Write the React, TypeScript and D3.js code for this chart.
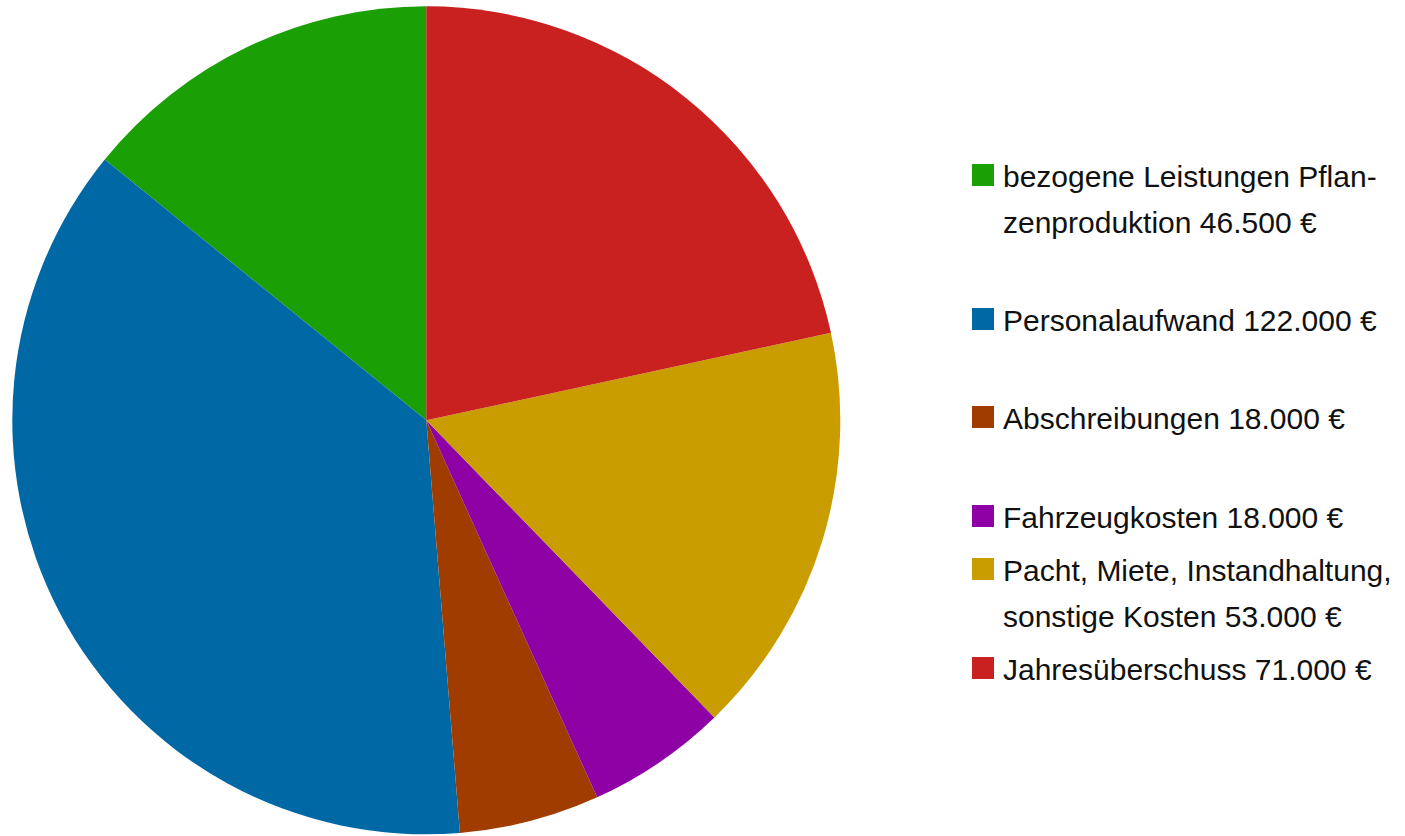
import React from "react";
import * as d3 from "d3";

const categories = [
  "bezogene Leistungen Pflanzenproduktion",
  "Personalaufwand",
  "Abschreibungen",
  "Fahrzeugkosten",
  "Pacht, Miete, Instandhaltung, sonstige Kosten",
  "Jahresüberschuss",
];
const values = [46500, 122000, 18000, 18000, 53000, 71000];
const colors = ["#1aa005", "#0068a4", "#a03c00", "#8e01a5", "#c99c00", "#c82120"];
const legendLines = [
  ["bezogene Leistungen Pflan-", "zenproduktion 46.500 €"],
  ["Personalaufwand 122.000 €"],
  ["Abschreibungen 18.000 €"],
  ["Fahrzeugkosten 18.000 €"],
  ["Pacht, Miete, Instandhaltung,", "sonstige Kosten 53.000 €"],
  ["Jahresüberschuss 71.000 €"],
];
const legendTops = [164, 308, 406, 505, 558, 657];

export default function App() {
  const W = 1405, H = 836;
  const cx = 426.3, cy = 420.3, R = 414;
  const pie = d3
    .pie<number>()
    .sort(null)
    .startAngle(0)
    .endAngle(-2 * Math.PI)
    .value((d) => d);
  const arcs = pie(values);
  const arc = d3.arc<d3.PieArcDatum<number>>().innerRadius(0).outerRadius(R);
  const font = "'Liberation Sans', Arial, sans-serif";
  return (
    <svg
      width={W}
      height={H}
      style={{ position: "absolute", left: 0, top: 0, background: "#fff" }}
    >
      <g transform={`translate(${cx},${cy})`}>
        {arcs.map((a, i) => (
          <path key={categories[i]} d={arc(a) || ""} fill={colors[i]} />
        ))}
      </g>
      <g>
        {categories.map((c, i) => (
          <g key={c}>
            <rect x={972} y={legendTops[i]} width={22} height={22} fill={colors[i]} />
            {legendLines[i].map((ln, j) => (
              <text
                key={j}
                x={1003}
                y={legendTops[i] + 23 + j * 46}
                fontFamily={font}
                fontSize={30}
                fill="#111"
              >
                {ln}
              </text>
            ))}
          </g>
        ))}
      </g>
    </svg>
  );
}
